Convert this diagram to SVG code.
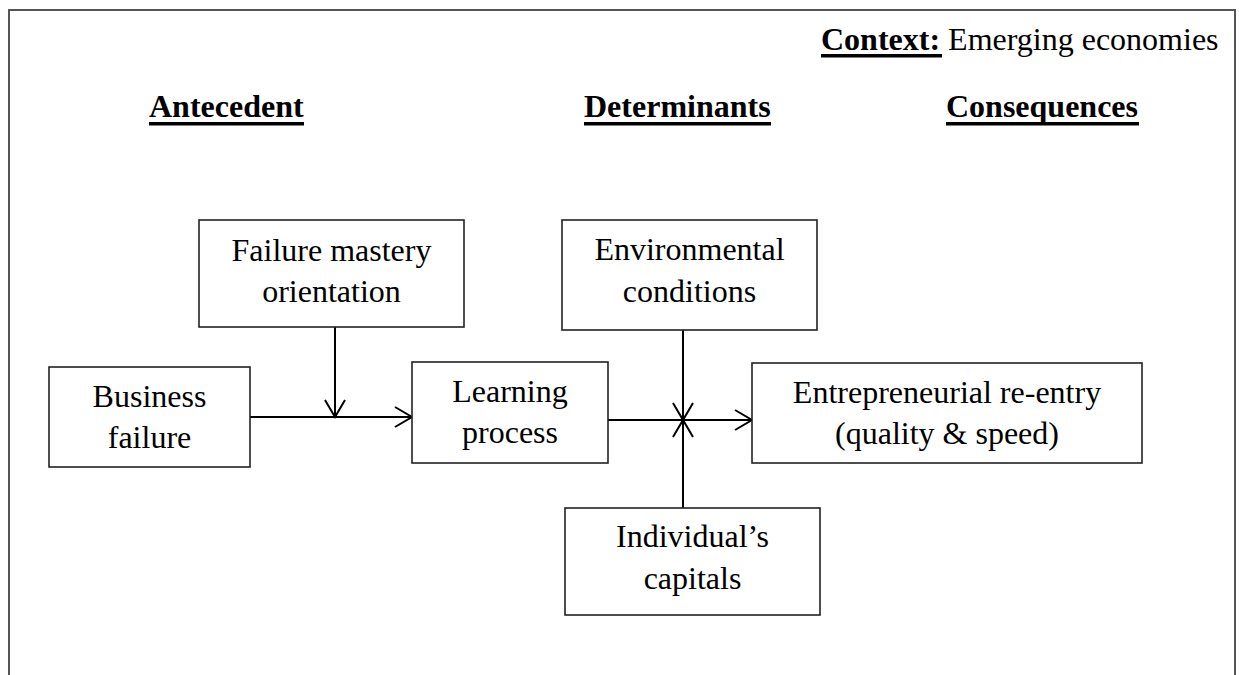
<svg xmlns="http://www.w3.org/2000/svg" width="1239" height="675" viewBox="0 0 1239 675">
<style>
  text { font-family: "Liberation Serif", "Times New Roman", serif; font-size: 32px; fill: #000; }
  .b { font-weight: bold; }
  .c { text-anchor: middle; }
  .box { fill: #fff; stroke: #222; stroke-width: 1.6; }
  .ln { fill: none; stroke: #000; stroke-width: 2; }
  .ul { fill: #000; }
  .frame { fill: none; stroke: #555; stroke-width: 2; }
</style>
<defs>
  <marker id="arr" markerUnits="userSpaceOnUse" markerWidth="24" markerHeight="24" viewBox="-20 -12 24 24" refX="0" refY="0" orient="auto" overflow="visible">
    <path d="M-17,-10 L0,0 L-17,10" fill="none" stroke="#000" stroke-width="2"/>
  </marker>
</defs>
<rect width="1239" height="675" fill="#fff"/>
<path class="frame" d="M9,676 L9,10 L1235,10 L1235,676"/>

<g id="headings">
  <text x="821" y="50"><tspan class="b">Context:</tspan> Emerging economies</text>
  <rect class="ul" x="821" y="54" width="121" height="3.5"/>
  <text class="b" x="149" y="117">Antecedent</text>
  <rect class="ul" x="149" y="122" width="155" height="3.5"/>
  <text class="b" x="584" y="117">Determinants</text>
  <rect class="ul" x="584" y="122" width="187" height="3.5"/>
  <text class="b" x="946" y="117">Consequences</text>
  <rect class="ul" x="946" y="122" width="193" height="3.5"/>
</g>

<g id="connectors">
  <line class="ln" x1="250" y1="417" x2="412" y2="417" marker-end="url(#arr)"/>
  <line class="ln" x1="335" y1="327" x2="335" y2="417" marker-end="url(#arr)"/>
  <line class="ln" x1="608" y1="420" x2="752" y2="420" marker-end="url(#arr)"/>
  <line class="ln" x1="683" y1="330" x2="683" y2="420" marker-end="url(#arr)"/>
  <line class="ln" x1="683" y1="508" x2="683" y2="420" marker-end="url(#arr)"/>
</g>

<g id="failure-mastery">
  <rect class="box" x="199" y="220" width="265" height="107"/>
  <text class="c" x="331.5" y="261">Failure mastery</text>
  <text class="c" x="331.5" y="302">orientation</text>
</g>
<g id="business-failure">
  <rect class="box" x="49" y="367" width="201" height="100"/>
  <text class="c" x="149.5" y="407">Business</text>
  <text class="c" x="149.5" y="448">failure</text>
</g>
<g id="learning-process">
  <rect class="box" x="412" y="362" width="196" height="101"/>
  <text class="c" x="510" y="402">Learning</text>
  <text class="c" x="510" y="443">process</text>
</g>
<g id="environmental-conditions">
  <rect class="box" x="562" y="220" width="255" height="110"/>
  <text class="c" x="689.5" y="260">Environmental</text>
  <text class="c" x="689.5" y="302">conditions</text>
</g>
<g id="entrepreneurial-reentry">
  <rect class="box" x="752" y="363" width="390" height="100"/>
  <text class="c" x="947" y="403">Entrepreneurial re-entry</text>
  <text class="c" x="947" y="444">(quality &amp; speed)</text>
</g>
<g id="individuals-capitals">
  <rect class="box" x="565" y="508" width="255" height="107"/>
  <text class="c" x="692.5" y="547">Individual’s</text>
  <text class="c" x="692.5" y="589">capitals</text>
</g>
</svg>
